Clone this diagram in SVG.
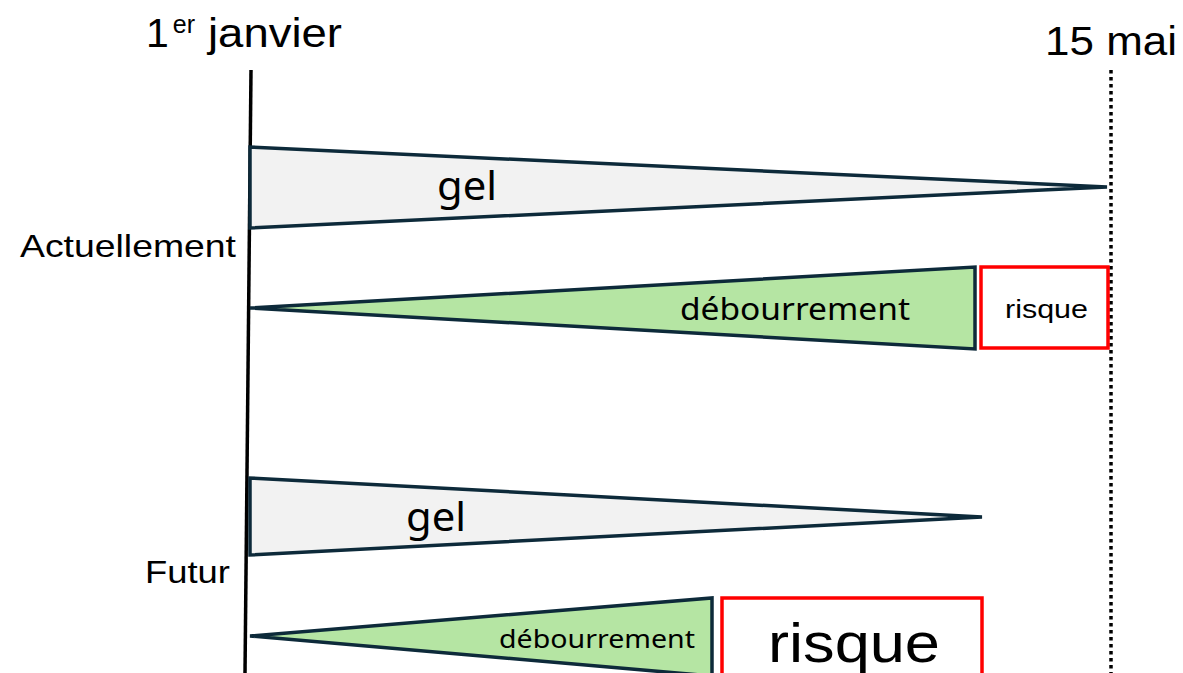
<svg xmlns="http://www.w3.org/2000/svg" width="1183" height="673" viewBox="0 0 1183 673">
<style>
.tri{stroke:#0d2a3a;stroke-width:3.5;stroke-linejoin:miter}
.gel{fill:#f2f2f2}
.deb{fill:#b5e5a3}
.risk{fill:#ffffff;stroke:#ff0000;stroke-width:3.5}
.lab{font-family:"Liberation Sans",Arial,sans-serif;fill:#000}
.in{font-family:"Noto Sans","Open Sans",sans-serif;fill:#000}
</style>
<rect width="1183" height="673" fill="#ffffff"/>
<g id="axes">
<line x1="251" y1="70" x2="245" y2="673" stroke="#000" stroke-width="3.5"/>
<line x1="1111" y1="70" x2="1111" y2="673" stroke="#000" stroke-width="3.5" stroke-dasharray="3.5,3.5"/>
</g>
<g id="labels">
<text class="lab" x="146" y="47" font-size="41">1<tspan font-size="25" dy="-14" dx="4">er</tspan><tspan x="208" dy="14" textLength="134" lengthAdjust="spacingAndGlyphs">janvier</tspan></text>
<text class="lab" x="1045" y="55" font-size="41" textLength="132" lengthAdjust="spacingAndGlyphs">15 mai</text>
<text class="lab" x="20" y="257" font-size="32" textLength="216" lengthAdjust="spacingAndGlyphs">Actuellement</text>
<text class="lab" x="145" y="583" font-size="32" textLength="85" lengthAdjust="spacingAndGlyphs">Futur</text>
</g>
<g id="gel-actuel">
<polygon class="tri gel" points="250,147 250,228 1107,187"/>
<text class="in" x="437" y="200" font-size="40" textLength="60" lengthAdjust="spacingAndGlyphs">gel</text>
</g>
<g id="debourrement-actuel">
<polygon class="tri deb" points="250,308 975,267 975,349"/>
<text class="in" x="680" y="320" font-size="31" textLength="230" lengthAdjust="spacingAndGlyphs">débourrement</text>
</g>
<g id="risque-actuel">
<rect class="risk" x="981" y="267" width="127" height="81"/>
<text class="lab" x="1005" y="318" font-size="26" textLength="83" lengthAdjust="spacingAndGlyphs">risque</text>
</g>
<g id="gel-futur">
<polygon class="tri gel" points="250,478 250,555 982,517"/>
<text class="in" x="406" y="531" font-size="40" textLength="60" lengthAdjust="spacingAndGlyphs">gel</text>
</g>
<g id="debourrement-futur">
<polygon class="tri deb" points="250,636 712,598 712,676"/>
<text class="in" x="499" y="648" font-size="26" textLength="196" lengthAdjust="spacingAndGlyphs">débourrement</text>
</g>
<g id="risque-futur">
<rect class="risk" x="722" y="598" width="260" height="80"/>
<text class="lab" x="768" y="662" font-size="56" textLength="172" lengthAdjust="spacingAndGlyphs">risque</text>
</g>
<g id="connectors"></g>
</svg>
